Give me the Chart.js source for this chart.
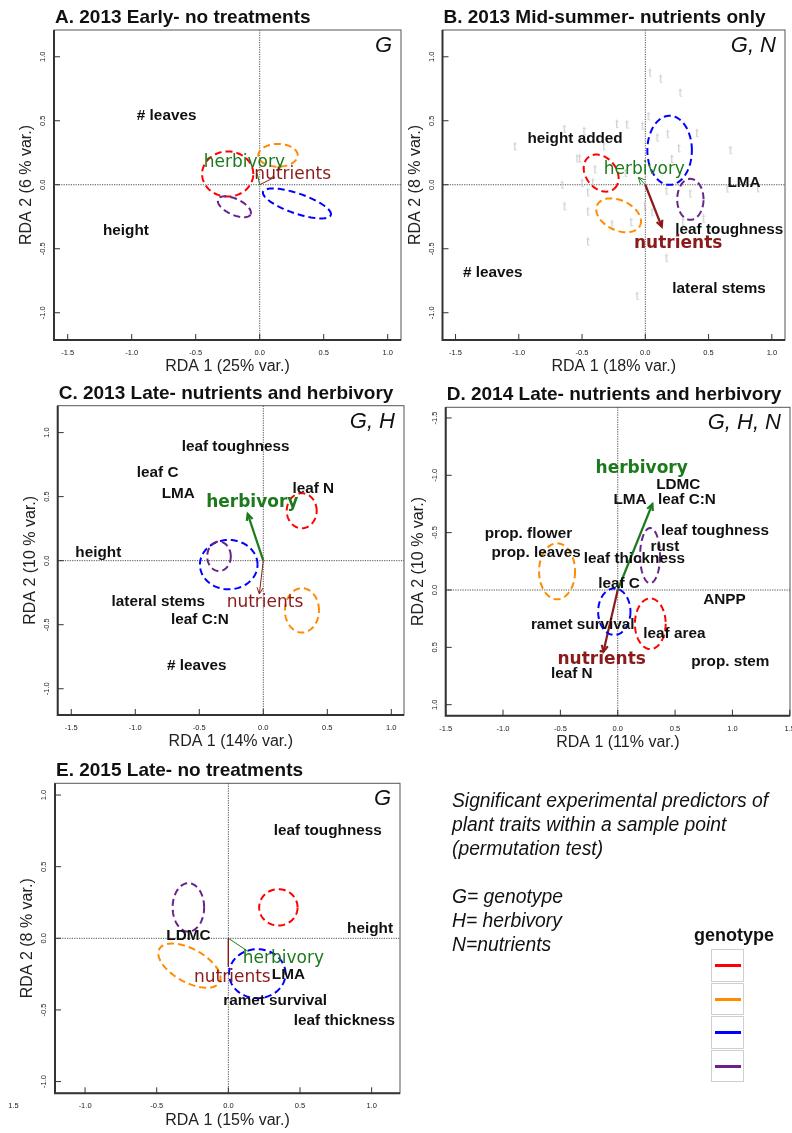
<!DOCTYPE html>
<html>
<head>
<meta charset="utf-8">
<script src="https://cdn.jsdelivr.net/npm/chart.js@4.4.1/dist/chart.umd.min.js"></script>
<style>
  html, body { margin: 0; padding: 0; background: #fff; }
  #page { position: relative; width: 792px; height: 1133px; overflow: hidden; }
  #page canvas { position: absolute; left: 0; top: 0; }
  .note { position: absolute; left: 452px; top: 789px; font: italic 19.3px "Liberation Sans", Arial, sans-serif;
          line-height: 24px; color: #111; white-space: pre; }
  .legend-title { position: absolute; left: 684px; width: 100px; top: 925px; text-align: center;
                  font: bold 18px "Liberation Sans", Arial, sans-serif; color: #111; }
  .legend-cell { position: absolute; left: 711px; width: 31px; height: 30.6px; border: 1.5px solid #cfcfcf; }
  .legend-cell div { position: absolute; left: 2.5px; right: 2.5px; top: 14px; height: 3px; }
</style>
</head>
<body>
<div id="page"></div>
<script>
// ---- data ----
var panelTitles = ['A. 2013 Early- no treatments', 'B. 2013 Mid-summer- nutrients only',
  'C. 2013 Late- nutrients and herbivory', 'D. 2014 Late- nutrients and herbivory', 'E. 2015 Late- no treatments'];
var xAxisTitles = ['RDA 1 (25% var.)', 'RDA 1 (18% var.)', 'RDA 1 (14% var.)', 'RDA 1 (11% var.)', 'RDA 1 (15% var.)'];
var yAxisTitles = ['RDA 2 (6 % var.)', 'RDA 2 (8 % var.)', 'RDA 2 (10 % var.)', 'RDA 2 (10 % var.)', 'RDA 2 (8 % var.)'];
var sigPredictors = ['G', 'G, N', 'G, H', 'G, H, N', 'G'];

var xTicks = [[-1.5, -1, -0.5, 0, 0.5, 1], [-1.5, -1, -0.5, 0, 0.5, 1], [-1.5, -1, -0.5, 0, 0.5, 1],
  [-1.5, -1, -0.5, 0, 0.5, 1, 1.5], [-1.5, -1, -0.5, 0, 0.5, 1]];
var xTickLabels = [['-1.5', '-1.0', '-0.5', '0.0', '0.5', '1.0'], ['-1.5', '-1.0', '-0.5', '0.0', '0.5', '1.0'],
  ['-1.5', '-1.0', '-0.5', '0.0', '0.5', '1.0'], ['-1.5', '-1.0', '-0.5', '0.0', '0.5', '1.0', '1.5'],
  ['1.5', '-1.0', '-0.5', '0.0', '0.5', '1.0']];
var yTicks = [[-1, -0.5, 0, 0.5, 1], [-1, -0.5, 0, 0.5, 1], [-1, -0.5, 0, 0.5, 1],
  [-1.5, -1, -0.5, 0, 0.5, 1], [-1, -0.5, 0, 0.5, 1]];
var xRanges = [[-1.607, 1.104], [-1.603, 1.104], [-1.606, 1.099], [-1.5, 1.502], [-1.21, 1.198]];
var yRanges = [[-1.213, 1.209], [-1.213, 1.209], [-1.205, 1.21], [-1.593, 1.096], [-1.082, 1.082]];
var yReversed = [false, false, false, true, false];

// trait scores: [label, RDA1, RDA2]
var traitsA = [['# leaves', -0.727, 0.537], ['height', -1.045, -0.36]];
var traitsB = [['height added', -0.555, 0.362], ['LMA', 0.78, 0.016], ['leaf toughness', 0.664, -0.354],
  ['# leaves', -1.206, -0.688], ['lateral stems', 0.583, -0.8125]];
var traitsC = [['leaf toughness', -0.216, 0.89], ['leaf C', -0.825, 0.688], ['LMA', -0.664, 0.519],
  ['leaf N', 0.39, 0.5625], ['height', -1.289, 0.0625], ['lateral stems', -0.82, -0.32],
  ['leaf C:N', -0.495, -0.458], ['# leaves', -0.52, -0.82]];
var traitsD = [['LDMC', 0.528, -0.921], ['LMA', 0.107, -0.79], ['leaf C:N', 0.604, -0.785],
  ['leaf toughness', 0.848, -0.514], ['prop. flower', -0.779, -0.488], ['rust', 0.412, -0.378],
  ['prop. leaves', -0.712, -0.326], ['leaf thickness', 0.145, -0.27], ['leaf C', 0.011, -0.058],
  ['ANPP', 0.93, 0.087], ['ramet survival', -0.305, 0.305], ['leaf area', 0.494, 0.378],
  ['prop. stem', 0.982, 0.63], ['leaf N', -0.401, 0.727]];
var traitsE = [['leaf toughness', 0.694, 0.749], ['height', 0.989, 0.065], ['LDMC', -0.279, 0.016],
  ['LMA', 0.419, -0.258], ['ramet survival', 0.326, -0.435], ['leaf thickness', 0.81, -0.575]];

// treatment vectors: [name, tipX, tipY, labelX, labelY, significant]
var vectorsA = [['herbivory', -0.02, 0.09, -0.12, 0.175, false], ['nutrients', 0.12, 0.06, 0.258, 0.083, false]];
var vectorsB = [['herbivory', -0.055, 0.058, -0.008, 0.12, false], ['nutrients', 0.13, -0.328, 0.26, -0.458, true]];
var vectorsC = [['herbivory', -0.122, 0.365, -0.086, 0.456, true], ['nutrients', -0.031, -0.26, 0.013, -0.325, false]];
var vectorsD = [['herbivory', 0.302, -0.75, 0.209, -1.055, true], ['nutrients', -0.125, 0.538, -0.14, 0.61, true]];
var vectorsE = [['herbivory', 0.14, -0.093, 0.384, -0.144, false], ['nutrients', 0, -0.198, 0.028, -0.272, false]];
var arrowHeads = [false, true, true, true, false];

// genotype ellipses: [genotype, cx, cy, rx, ry, angle deg]
var ellipsesA = [[0, -0.25, 0.084, 0.2, 0.176, 0], [1, 0.143, 0.23, 0.154, 0.089, 0],
  [2, 0.291, -0.146, 0.28, 0.078, -19], [3, -0.198, -0.172, 0.14, 0.0625, -25]];
var ellipsesB = [[0, -0.349, 0.091, 0.16, 0.12, -50], [1, -0.211, -0.239, 0.1875, 0.117, -25],
  [2, 0.192, 0.269, 0.176, 0.27, 0], [3, 0.356, -0.114, 0.104, 0.16, 0]];
var ellipsesC = [[0, 0.3, 0.39, 0.117, 0.137, 0], [1, 0.302, -0.388, 0.133, 0.173, 0],
  [2, -0.27, -0.031, 0.225, 0.193, 0], [3, -0.346, 0.034, 0.092, 0.115, 0]];
var ellipsesD = [[0, 0.284, 0.294, 0.134, 0.221, 0], [1, -0.529, -0.163, 0.157, 0.244, 0],
  [2, -0.03, 0.189, 0.141, 0.203, 0], [3, 0.282, -0.3, 0.087, 0.24, 0]];
var ellipsesE = [[0, 0.349, 0.216, 0.134, 0.127, 0], [1, -0.272, -0.191, 0.24, 0.116, -29],
  [2, 0.202, -0.247, 0.197, 0.171, 0], [3, -0.279, 0.216, 0.11, 0.169, 0]];

// sample scores shown as grey "t" in panel B
var sampleScoresB = [[0.038, 0.867], [0.122, 0.82], [0.278, 0.711], [0.026, 0.527], [-0.224, 0.466],
  [-0.144, 0.462], [-0.021, 0.451], [-0.638, 0.427], [-0.482, 0.412], [-0.326, 0.292], [-1.029, 0.291],
  [0.096, 0.36], [0.178, 0.388], [0.409, 0.395], [0.266, 0.277], [0.674, 0.262], [-0.537, 0.197],
  [-0.517, 0.197], [0.211, 0.193], [-0.396, 0.113], [-0.155, 0.084], [-0.656, -0.009], [-0.498, 0.005],
  [-0.414, 0.01], [0.168, -0.055], [0.356, -0.077], [0.649, -0.038], [0.891, -0.036], [-0.453, -0.067],
  [-0.638, -0.177], [-0.453, -0.217], [-0.003, -0.174], [0.055, -0.223], [-0.261, -0.318], [-0.111, -0.299],
  [0.299, -0.297], [0.461, -0.273], [-0.453, -0.452], [0.168, -0.582], [-0.063, -0.877]];

var genotypeColors = ['#ff0000', '#ff8c00', '#0000ff', '#68228b'];
var noteLines = ['Significant experimental predictors of', 'plant traits within a sample point',
  '(permutation test)', '', 'G= genotype', 'H= herbivory', 'N=nutrients'];

var traitSets = [traitsA, traitsB, traitsC, traitsD, traitsE];
var vectorSets = [vectorsA, vectorsB, vectorsC, vectorsD, vectorsE];
var ellipseSets = [ellipsesA, ellipsesB, ellipsesC, ellipsesD, ellipsesE];
var sampleSets = [[], sampleScoresB, [], [], []];

// ---- layout ----
var W = 792, H = 1133;
var boxes = [
  { l: 54, t: 30, r: 401, b: 340 },
  { l: 442.5, t: 30, r: 789, b: 340 },
  { l: 57.7, t: 405.7, r: 404, b: 715 },
  { l: 445.7, t: 407.3, r: 790, b: 715.7 },
  { l: 55, t: 783.3, r: 400, b: 1093.3 }
];
var vectorColors = { herbivory: '#1c7a1c', nutrients: '#8b1a1a' };
var SANS = '"Liberation Sans", Arial, sans-serif';
var DEJAVU = '"DejaVu Sans", sans-serif';

function makeGlyph() {
  var c = document.createElement('canvas');
  c.width = 10; c.height = 14;
  var g = c.getContext('2d');
  g.fillStyle = '#c9c9c9';
  g.font = '12px ' + SANS;
  g.textAlign = 'center';
  g.textBaseline = 'middle';
  g.fillText('t', 5, 7);
  return c;
}

function drawArrowHead(ctx, x0, y0, x1, y1, color, lw) {
  var ang = Math.atan2(y1 - y0, x1 - x0), len = 7, spread = 0.45;
  ctx.save();
  ctx.strokeStyle = color;
  ctx.lineWidth = lw;
  ctx.beginPath();
  ctx.moveTo(x1 - len * Math.cos(ang - spread), y1 - len * Math.sin(ang - spread));
  ctx.lineTo(x1, y1);
  ctx.lineTo(x1 - len * Math.cos(ang + spread), y1 - len * Math.sin(ang + spread));
  ctx.stroke();
  ctx.restore();
}

function rdaPlugin(i) {
  return {
    id: 'rda' + i,
    beforeDatasetsDraw: function(chart) {
      var ctx = chart.ctx, xs = chart.scales.x, ys = chart.scales.y, a = chart.chartArea;
      ctx.save();
      ctx.strokeStyle = '#222';
      ctx.lineWidth = 0.8;
      ctx.setLineDash([1.2, 1.2]);
      ctx.beginPath();
      var x0 = xs.getPixelForValue(0), y0 = ys.getPixelForValue(0);
      ctx.moveTo(x0, a.top); ctx.lineTo(x0, a.bottom);
      ctx.moveTo(a.left, y0); ctx.lineTo(a.right, y0);
      ctx.stroke();
      ctx.restore();
    },
    afterDatasetsDraw: function(chart) {
      var ctx = chart.ctx, xs = chart.scales.x, ys = chart.scales.y, a = chart.chartArea;

      // arrow heads
      if (arrowHeads[i]) {
        vectorSets[i].forEach(function(v, k) {
          var meta = chart.getDatasetMeta(k);
          var p0 = meta.data[0], p1 = meta.data[1];
          drawArrowHead(ctx, p0.x, p0.y, p1.x, p1.y, vectorColors[v[0]], v[5] ? 2.2 : 1);
        });
      }

      // genotype ellipses
      ctx.save();
      ctx.beginPath(); ctx.rect(a.left, a.top, a.right - a.left, a.bottom - a.top); ctx.clip();
      ctx.lineWidth = 2;
      ctx.setLineDash([7, 4]);
      ellipseSets[i].forEach(function(e) {
        var rad = e[5] * Math.PI / 180, ca = Math.cos(rad), sa = Math.sin(rad);
        ctx.strokeStyle = genotypeColors[e[0]];
        ctx.beginPath();
        for (var k = 0; k <= 90; k++) {
          var t = k / 90 * 2 * Math.PI;
          var ex = e[3] * Math.cos(t), ey = e[4] * Math.sin(t);
          var px = xs.getPixelForValue(e[1] + ex * ca - ey * sa);
          var py = ys.getPixelForValue(e[2] + ex * sa + ey * ca);
          if (k) ctx.lineTo(px, py); else ctx.moveTo(px, py);
        }
        ctx.stroke();
      });
      ctx.restore();

      // trait labels
      ctx.save();
      ctx.textAlign = 'center';
      ctx.textBaseline = 'middle';
      ctx.fillStyle = '#111';
      ctx.font = 'bold 15.3px ' + SANS;
      traitSets[i].forEach(function(t) {
        ctx.fillText(t[0], xs.getPixelForValue(t[1]), ys.getPixelForValue(t[2]));
      });
      vectorSets[i].forEach(function(v) {
        ctx.font = (v[5] ? 'bold ' : '') + '17px ' + DEJAVU;
        ctx.fillStyle = vectorColors[v[0]];
        ctx.fillText(v[0], xs.getPixelForValue(v[3]), ys.getPixelForValue(v[4]));
      });
      ctx.restore();
    },
    afterDraw: function(chart) {
      var ctx = chart.ctx, xs = chart.scales.x, ys = chart.scales.y, a = chart.chartArea;
      ctx.save();
      // frame
      ctx.strokeStyle = '#555';
      ctx.lineWidth = 1;
      ctx.strokeRect(a.left, a.top, a.right - a.left, a.bottom - a.top);
      ctx.strokeStyle = '#333';
      ctx.lineWidth = 2;
      ctx.beginPath();
      ctx.moveTo(a.left, a.top); ctx.lineTo(a.left, a.bottom); ctx.lineTo(a.right, a.bottom);
      ctx.stroke();

      // ticks (inward) and tick labels
      ctx.lineWidth = 1;
      ctx.fillStyle = '#222';
      ctx.font = '7.5px ' + SANS;
      ctx.textAlign = 'center';
      ctx.textBaseline = 'middle';
      xTicks[i].forEach(function(v, k) {
        var px = xs.getPixelForValue(v);
        if (px >= a.left - 0.5 && px <= a.right + 0.5) {
          ctx.beginPath(); ctx.moveTo(px, a.bottom); ctx.lineTo(px, a.bottom - 6); ctx.stroke();
        }
        ctx.fillText(xTickLabels[i][k], px, a.bottom + 13);
      });
      yTicks[i].forEach(function(v) {
        var py = ys.getPixelForValue(v);
        ctx.beginPath(); ctx.moveTo(a.left, py); ctx.lineTo(a.left + 6, py); ctx.stroke();
        ctx.save();
        ctx.translate(a.left - 11, py);
        ctx.rotate(-Math.PI / 2);
        ctx.fillText(v.toFixed(1), 0, 0);
        ctx.restore();
      });

      // axis titles
      ctx.font = '16px ' + SANS;
      ctx.fillText(xAxisTitles[i], (a.left + a.right) / 2, a.bottom + 27);
      ctx.save();
      ctx.translate(a.left - 27, (a.top + a.bottom) / 2);
      ctx.rotate(-Math.PI / 2);
      ctx.fillText(yAxisTitles[i], 0, 0);
      ctx.restore();

      // panel title and significant predictors
      ctx.fillStyle = '#111';
      ctx.textBaseline = 'alphabetic';
      ctx.textAlign = 'left';
      ctx.font = 'bold 19px ' + SANS;
      ctx.fillText(panelTitles[i], a.left + 1, a.top - 7);
      ctx.textAlign = 'right';
      ctx.font = 'italic 22px ' + SANS;
      ctx.fillText(sigPredictors[i], a.right - 9, a.top + 22);
      ctx.restore();
    }
  };
}

function makePanel(i) {
  var canvas = document.createElement('canvas');
  canvas.width = W; canvas.height = H;
  canvas.style.width = W + 'px'; canvas.style.height = H + 'px';
  document.getElementById('page').appendChild(canvas);
  var b = boxes[i];

  var datasets = vectorSets[i].map(function(v) {
    return {
      data: [{ x: 0, y: 0 }, { x: v[1], y: v[2] }],
      showLine: true,
      borderColor: vectorColors[v[0]],
      borderWidth: v[5] ? 2.2 : 1,
      pointRadius: 0
    };
  });
  if (sampleSets[i].length) {
    datasets.push({
      data: sampleSets[i].map(function(s) { return { x: s[0], y: s[1] }; }),
      pointStyle: makeGlyph(),
      pointRadius: 6,
      showLine: false
    });
  }

  return new Chart(canvas, {
    type: 'scatter',
    data: { datasets: datasets },
    options: {
      responsive: false,
      animation: false,
      devicePixelRatio: 1,
      events: [],
      layout: { padding: { left: b.l, top: b.t, right: W - b.r, bottom: H - b.b } },
      scales: {
        x: { type: 'linear', display: false, bounds: 'data', min: xRanges[i][0], max: xRanges[i][1] },
        y: { type: 'linear', display: false, bounds: 'data', min: yRanges[i][0], max: yRanges[i][1], reverse: yReversed[i] }
      },
      plugins: { legend: { display: false }, tooltip: { enabled: false } }
    },
    plugins: [rdaPlugin(i)]
  });
}

function buildNotes() {
  var page = document.getElementById('page');
  var note = document.createElement('div');
  note.className = 'note';
  note.textContent = noteLines.join('\n');
  page.appendChild(note);

  var title = document.createElement('div');
  title.className = 'legend-title';
  title.textContent = 'genotype';
  page.appendChild(title);
  genotypeColors.forEach(function(c, k) {
    var cell = document.createElement('div');
    cell.className = 'legend-cell';
    cell.style.top = (949 + k * 33.6) + 'px';
    var line = document.createElement('div');
    line.style.background = c;
    cell.appendChild(line);
    page.appendChild(cell);
  });
}

[0, 1, 2, 3, 4].forEach(makePanel);
buildNotes();
</script>
</body>
</html>
